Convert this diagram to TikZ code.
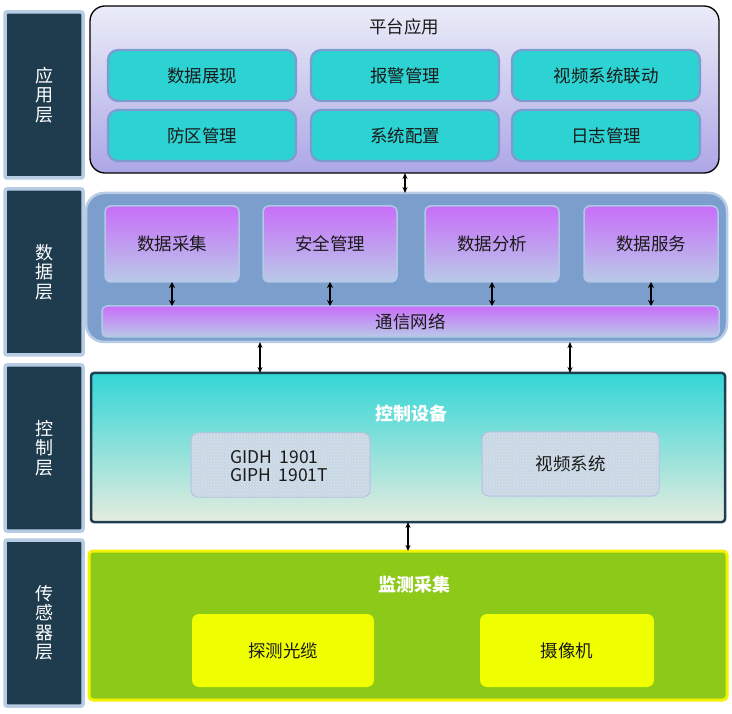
\documentclass[tikz,border=0pt]{standalone}
\usepackage{fontspec}
\setmainfont{Noto Sans CJK SC}
\usetikzlibrary{arrows.meta,patterns}
\definecolor{labdark}{HTML}{1F3C4F}
\definecolor{labedge}{HTML}{B8CCE4}
\definecolor{apptop}{HTML}{EAEDF8}
\definecolor{appbot}{HTML}{ADA6E6}
\definecolor{teal}{HTML}{2DD3D3}
\definecolor{tealedge}{HTML}{7C9BD0}
\definecolor{datafill}{HTML}{7C9ECC}
\definecolor{dataedge}{HTML}{B8CCE6}
\definecolor{purtop}{HTML}{C86EF9}
\definecolor{purbot}{HTML}{B9CAE8}
\definecolor{puredge}{HTML}{AFC8E6}
\definecolor{ctltop}{HTML}{33D6D6}
\definecolor{ctlbot}{HTML}{E6ECDF}
\definecolor{ctledge}{HTML}{1F3E52}
\definecolor{devfill}{HTML}{C8D6EC}
\definecolor{devdots}{HTML}{E2EEC8}
\definecolor{devedge}{HTML}{B4BEE6}
\definecolor{sensfill}{HTML}{8CC919}
\definecolor{sensedge}{HTML}{F2F200}
\definecolor{yel}{HTML}{F0FF00}
\definecolor{txt}{HTML}{1A1A1A}
\begin{document}
\begin{tikzpicture}[x=1pt,y=-1pt,
  every node/.style={inner sep=0pt,outer sep=0pt,anchor=north west,text=txt},
  labbox/.style={fill=labdark,draw=labedge,line width=3.5pt,rounded corners=2pt,
    minimum width=78pt,minimum height=166pt,text=white,align=center,
    font=\fontsize{18}{19.5}\selectfont},
  appbox/.style={top color=apptop,bottom color=appbot,draw=black,line width=1.3pt,
    rounded corners=15pt,minimum width=629pt,minimum height=167pt},
  tealbox/.style={fill=teal,draw=tealedge,line width=2.2pt,rounded corners=10pt,
    minimum width=188pt,minimum height=51pt,font=\fontsize{17.5}{19}\selectfont},
  databox/.style={fill=datafill,draw=dataedge,line width=2.5pt,rounded corners=18pt,
    minimum width=641pt,minimum height=149pt},
  purbox/.style={top color=purtop,bottom color=purbot,draw=puredge,line width=1.5pt,
    rounded corners=6pt,minimum width=134pt,minimum height=76pt,font=\fontsize{17.5}{19}\selectfont},
  netbar/.style={top color=purtop,bottom color=purbot,draw=puredge,line width=1.5pt,
    rounded corners=5pt,minimum width=617pt,minimum height=31pt,font=\fontsize{17.5}{19}\selectfont},
  ctlbox/.style={top color=ctltop,bottom color=ctlbot,draw=ctledge,line width=2.5pt,
    rounded corners=3pt,minimum width=634pt,minimum height=149pt},
  devbox/.style={fill=devfill,draw=devedge,line width=1pt,rounded corners=7pt,
    minimum height=64pt,font=\fontsize{17.5}{19}\selectfont,
    postaction={pattern=crosshatch dots,pattern color=devdots}},
  sensbox/.style={fill=sensfill,draw=sensedge,line width=3pt,rounded corners=4pt,
    minimum width=638pt,minimum height=149pt},
  yelbox/.style={fill=yel,rounded corners=7pt,minimum height=73pt,font=\fontsize{17.5}{19}\selectfont},
  whitetitle/.style={anchor=center,text=white,font=\fontsize{18}{20}\bfseries\selectfont},
  dbl/.style={{Stealth[length=6pt,width=5pt]}-{Stealth[length=6pt,width=5pt]},line width=1.2pt,black},
  dblthick/.style={{Stealth[length=6pt,width=6pt]}-{Stealth[length=6pt,width=6pt]},line width=2pt,black}
]
\useasboundingbox (0,0) rectangle (732,714);
\fill[white] (0,0) rectangle (732,714);

% left labels
\node[labbox] (l1) at (5,12) {应\\用\\层};
\node[labbox] (l2) at (5,189) {数\\据\\层};
\node[labbox] (l3) at (5,365) {控\\制\\层};
\node[labbox] (l4) at (5,540) {传\\感\\器\\层};

% application layer
\node[appbox] (app) at (90,6) {};
\node[anchor=center,font=\fontsize{17.5}{19}\selectfont] (apptitle) at (404,27) {平台应用};
\node[tealbox] (a1) at (108,50) {数据展现};
\node[tealbox] (a2) at (311,50) {报警管理};
\node[tealbox] (a3) at (512,50) {视频系统联动};
\node[tealbox] (a4) at (108,110) {防区管理};
\node[tealbox] (a5) at (311,110) {系统配置};
\node[tealbox] (a6) at (512,110) {日志管理};

% data layer
\node[databox] (data) at (86,193) {};
\node[purbox] (d1) at (105,206) {数据采集};
\node[purbox] (d2) at (263,206) {安全管理};
\node[purbox] (d3) at (425,206) {数据分析};
\node[purbox] (d4) at (584,206) {数据服务};
\node[netbar] (net) at (102,306) {通信网络};

% control layer
\node[ctlbox] (ctl) at (91,373) {};
\node[whitetitle] (ctltitle) at (411,414) {控制设备};
\node[devbox,minimum width=179pt] (dev1) at (191,433) {};
\node[anchor=west,align=left,font=\fontsize{17.5}{18}\selectfont] (dev1t) at (230,466) {GIDH\ \ 1901\\GIPH\ \ 1901T};
\node[devbox,minimum width=177pt] (dev2) at (482,432) {视频系统};

% sensor layer
\node[sensbox] (sens) at (89,551) {};
\node[whitetitle] (senstitle) at (414,585) {监测采集};
\node[yelbox,minimum width=182pt] (s1) at (192,614) {探测光缆};
\node[yelbox,minimum width=174pt] (s2) at (480,614) {摄像机};

% connectors
\coordinate (c0) at ([xshift=315pt]app.south west);
\draw[dbl] (c0) -- (c0 |- data.north);
\foreach \b in {d1,d2,d3,d4}{
  \draw[dblthick] (\b.south) -- (\b.south |- net.north);
}
\coordinate (c1) at ([xshift=174pt]data.south west);
\coordinate (c2) at ([xshift=484pt]data.south west);
\draw[dbl] (c1) -- (c1 |- ctl.north);
\draw[dbl] (c2) -- (c2 |- ctl.north);
\coordinate (c3) at ([xshift=317pt]ctl.south west);
\draw[dbl] (c3) -- (c3 |- sens.north);
\end{tikzpicture}
\end{document}
